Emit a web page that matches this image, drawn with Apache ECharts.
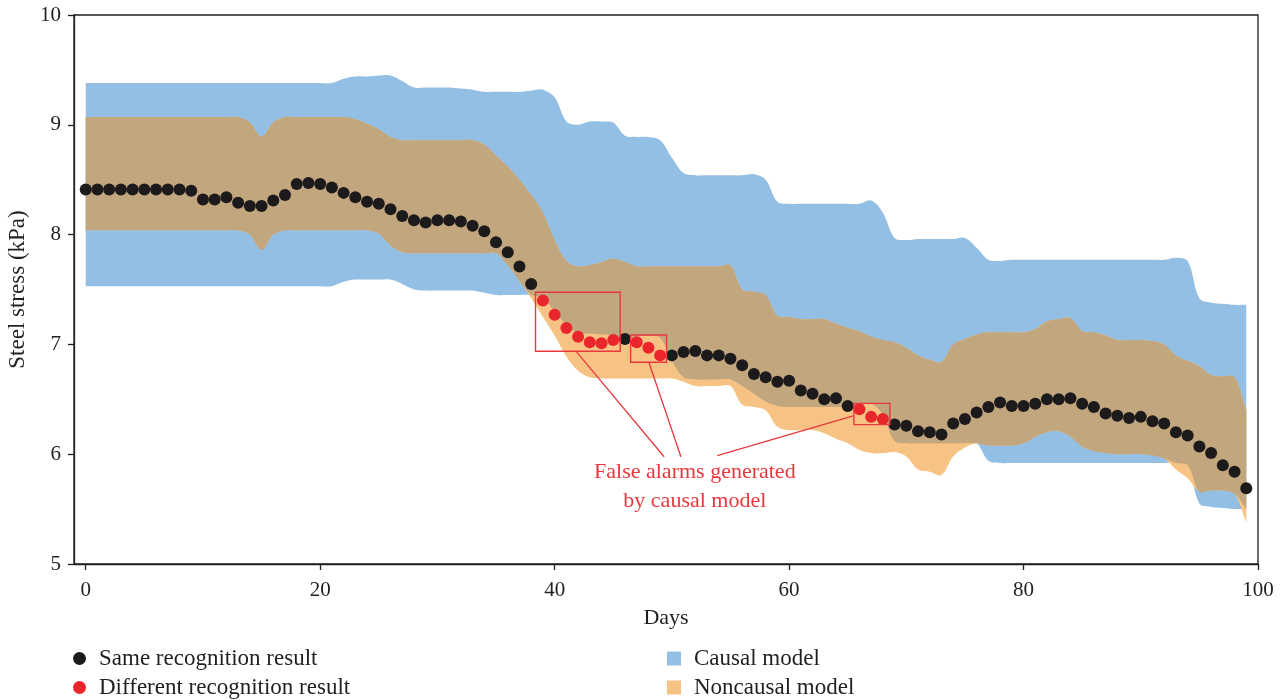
<!DOCTYPE html>
<html>
<head>
<meta charset="utf-8">
<title>Steel stress recognition</title>
<script src="https://cdn.jsdelivr.net/npm/echarts@6/dist/echarts.min.js"></script>
<style>
  html, body { margin: 0; padding: 0; background: #ffffff; }
  #chart { width: 1286px; height: 700px; }
</style>
</head>
<body>
<div id="chart"></div>
<script>
// Monitoring days 0..99
const days = Array.from({ length: 100 }, (_, i) => i);

// Measured steel stress (kPa), one value per day
const stress = [
  8.41, 8.41, 8.41, 8.41, 8.41, 8.41, 8.41, 8.41, 8.41, 8.40,
  8.32, 8.32, 8.34, 8.29, 8.26, 8.26, 8.31, 8.36, 8.46, 8.47,
  8.46, 8.43, 8.38, 8.34, 8.30, 8.28, 8.23, 8.17, 8.13, 8.11,
  8.13, 8.13, 8.12, 8.08, 8.03, 7.93, 7.84, 7.71, 7.55, 7.40,
  7.27, 7.15, 7.07, 7.02, 7.01, 7.04, 7.05, 7.02, 6.97, 6.90,
  6.90, 6.93, 6.94, 6.90, 6.90, 6.87, 6.81, 6.73, 6.70, 6.66,
  6.67, 6.58, 6.55, 6.50, 6.51, 6.44, 6.41, 6.34, 6.32, 6.27,
  6.26, 6.21, 6.20, 6.18, 6.28, 6.32, 6.38, 6.43, 6.47, 6.44,
  6.44, 6.46, 6.50, 6.50, 6.51, 6.46, 6.43, 6.37, 6.35, 6.33,
  6.34, 6.30, 6.28, 6.20, 6.17, 6.07, 6.01, 5.90, 5.84, 5.69
];

// Days on which the two models disagree
const differentDays = [39, 40, 41, 42, 43, 44, 45, 47, 48, 49, 66, 67, 68];

// Causal model normal range
const causalUpper = [
  9.38, 9.38, 9.38, 9.38, 9.38, 9.38, 9.38, 9.38, 9.38, 9.38,
  9.38, 9.38, 9.38, 9.38, 9.38, 9.38, 9.38, 9.38, 9.38, 9.38,
  9.38, 9.38, 9.42, 9.44, 9.44, 9.45, 9.45, 9.40, 9.34, 9.34,
  9.34, 9.34, 9.33, 9.32, 9.30, 9.30, 9.30, 9.30, 9.31, 9.32,
  9.25, 9.03, 9.00, 9.03, 9.03, 9.02, 8.90, 8.89, 8.89, 8.86,
  8.70, 8.56, 8.54, 8.54, 8.54, 8.54, 8.54, 8.55, 8.50, 8.30,
  8.28, 8.28, 8.28, 8.28, 8.28, 8.28, 8.28, 8.31, 8.20, 7.97,
  7.95, 7.96, 7.96, 7.96, 7.96, 7.97, 7.88, 7.77, 7.76, 7.77,
  7.77, 7.77, 7.77, 7.77, 7.77, 7.77, 7.77, 7.77, 7.77, 7.77,
  7.77, 7.77, 7.77, 7.79, 7.76, 7.42, 7.38, 7.37, 7.36, 7.36
];
const causalLower = [
  7.53, 7.53, 7.53, 7.53, 7.53, 7.53, 7.53, 7.53, 7.53, 7.53,
  7.53, 7.53, 7.53, 7.53, 7.53, 7.53, 7.53, 7.53, 7.53, 7.53,
  7.53, 7.53, 7.57, 7.59, 7.59, 7.59, 7.59, 7.55, 7.50, 7.49,
  7.49, 7.49, 7.49, 7.49, 7.47, 7.45, 7.45, 7.45, 7.45, 7.43,
  7.30, 7.18, 7.10, 7.10, 7.09, 7.08, 7.04, 7.07, 7.08, 7.06,
  6.85, 6.70, 6.68, 6.68, 6.68, 6.68, 6.62, 6.55, 6.48, 6.44,
  6.43, 6.43, 6.43, 6.43, 6.43, 6.43, 6.44, 6.46, 6.36, 6.12,
  6.10, 6.10, 6.10, 6.10, 6.10, 6.10, 6.10, 5.94, 5.92, 5.92,
  5.92, 5.92, 5.92, 5.92, 5.92, 5.92, 5.92, 5.92, 5.92, 5.92,
  5.92, 5.92, 5.92, 5.92, 5.90, 5.55, 5.52, 5.51, 5.50, 5.50
];

// Noncausal model normal range
const noncausalUpper = [
  9.07, 9.07, 9.07, 9.07, 9.07, 9.07, 9.07, 9.07, 9.07, 9.07,
  9.07, 9.07, 9.07, 9.07, 9.02, 8.89, 9.02, 9.07, 9.07, 9.07,
  9.07, 9.07, 9.07, 9.05, 9.01, 8.96, 8.89, 8.86, 8.86, 8.86,
  8.86, 8.86, 8.86, 8.86, 8.82, 8.72, 8.62, 8.50, 8.36, 8.20,
  7.95, 7.76, 7.71, 7.72, 7.75, 7.78, 7.75, 7.71, 7.71, 7.71,
  7.71, 7.71, 7.71, 7.71, 7.71, 7.72, 7.50, 7.48, 7.45, 7.26,
  7.25, 7.23, 7.23, 7.23, 7.19, 7.15, 7.12, 7.07, 7.04, 7.02,
  6.97, 6.90, 6.86, 6.84, 7.00, 7.05, 7.09, 7.11, 7.11, 7.11,
  7.11, 7.14, 7.21, 7.23, 7.24, 7.12, 7.11, 7.08, 7.04, 7.04,
  7.04, 7.03, 7.00, 6.90, 6.85, 6.80, 6.72, 6.71, 6.70, 6.40
];
const noncausalLower = [
  8.04, 8.04, 8.04, 8.04, 8.04, 8.04, 8.04, 8.04, 8.04, 8.04,
  8.04, 8.04, 8.04, 8.04, 8.00, 7.86, 8.00, 8.04, 8.04, 8.04,
  8.04, 8.04, 8.04, 8.04, 8.04, 8.01, 7.90, 7.84, 7.83, 7.83,
  7.83, 7.83, 7.83, 7.83, 7.83, 7.83, 7.72, 7.58, 7.42, 7.25,
  7.08, 6.89, 6.76, 6.70, 6.69, 6.69, 6.69, 6.69, 6.69, 6.69,
  6.69, 6.66, 6.62, 6.62, 6.62, 6.62, 6.45, 6.43, 6.40, 6.25,
  6.22, 6.22, 6.22, 6.19, 6.14, 6.10, 6.04, 6.01, 6.01, 6.02,
  5.98, 5.86, 5.84, 5.81, 5.98, 6.06, 6.10, 6.08, 6.08, 6.08,
  6.10, 6.16, 6.20, 6.21, 6.16, 6.07, 6.03, 6.01, 6.00, 6.00,
  6.00, 5.99, 5.96, 5.86, 5.78, 5.66, 5.67, 5.67, 5.64, 5.38
];

// Region where both ranges agree
const sharedUpper = days.map((d, i) => Math.min(causalUpper[i], noncausalUpper[i]));
const sharedLower = days.map((d, i) => Math.max(causalLower[i], noncausalLower[i]));

// Highlight boxes around false alarms: [xFrom, xTo, yFrom, yTo]
const alarmBoxes = [
  [38.37, 45.59, 6.937, 7.475],
  [46.48, 49.55, 6.837, 7.086],
  [65.53, 68.60, 6.269, 6.463]
];
// Leader lines from the note to the boxes: [x1, y1, x2, y2]
const leaderLines = [
  [41.84, 6.937, 49.34, 5.977],
  [48.04, 6.837, 50.77, 5.977],
  [53.87, 5.986, 65.47, 6.348]
];
const notePosition = [51.96, 5.706];
const noteText = 'False alarms generated\nby causal model';

const xTicks = [0, 20, 40, 60, 80, 100];

const FONT = "'Liberation Serif', 'DejaVu Serif', serif";
const INK = '#231f20';
const RED = '#e8383d';
const BLUE = '#93bfe4';
const ORANGE = '#f7c384';
const BROWN = '#c2a67e';

const isDifferent = new Set(differentDays);
const samePoints = days.filter(d => !isDifferent.has(d)).map(d => [d, stress[d]]);
const diffPoints = days.filter(d => isDifferent.has(d)).map(d => [d, stress[d]]);

// Filled band drawn as one smoothed polygon through the axis scales
function band(name, lower, upper, color, z) {
  return {
    name: name,
    type: 'custom',
    coordinateSystem: 'cartesian2d',
    z: z,
    silent: true,
    itemStyle: { color: color },
    data: days.map((d, i) => [d, lower[i], upper[i]]),
    encode: { x: 0, y: [1, 2] },
    renderItem: function (params, api) {
      if (params.dataIndex !== 0) return null;
      const top = days.map((d, i) => api.coord([d, upper[i]]));
      const bottom = days.map((d, i) => api.coord([d, lower[i]])).reverse();
      const n = top.length;
      // doubled corner points keep the end edges straight
      const pts = [top[0]].concat(top, [top[n - 1]], [bottom[0]], bottom, [bottom[n - 1]]);
      return {
        type: 'polygon',
        shape: { points: pts, smooth: 0.35 },
        style: { fill: color, stroke: null }
      };
    }
  };
}

const legendText = { fontFamily: FONT, fontSize: 23, lineHeight: 22, color: INK, padding: [0, 0, 0, 8] };

const chart = echarts.init(document.getElementById('chart'), null, { renderer: 'canvas' });

chart.setOption({
  animation: false,
  backgroundColor: '#ffffff',
  textStyle: { fontFamily: FONT, color: INK },
  grid: {
    left: 74, right: 28, top: 15, bottom: 136,
    containLabel: false,
    outerBoundsMode: 'none',
    show: true, borderColor: INK, borderWidth: 1.3, backgroundColor: 'transparent'
  },
  xAxis: {
    type: 'value',
    min: -1, max: 100,
    name: 'Days',
    nameLocation: 'middle',
    nameGap: 43,
    nameTextStyle: { fontFamily: FONT, fontSize: 22, color: INK },
    axisLine: { show: true, onZero: false, lineStyle: { color: INK, width: 1.3 } },
    axisTick: { show: true, customValues: xTicks, length: 6, lineStyle: { color: INK, width: 1.3 } },
    axisLabel: { customValues: xTicks, fontFamily: FONT, fontSize: 21, color: INK, margin: 16 },
    splitLine: { show: false }
  },
  yAxis: {
    type: 'value',
    min: 5, max: 10, interval: 1,
    name: 'Steel stress (kPa)',
    nameLocation: 'middle',
    nameGap: 44,
    nameTextStyle: { fontFamily: FONT, fontSize: 23, color: INK },
    axisLine: { show: true, onZero: false, lineStyle: { color: INK, width: 1.3 } },
    axisTick: { show: true, length: 6, lineStyle: { color: INK, width: 1.3 } },
    axisLabel: { fontFamily: FONT, fontSize: 21, color: INK, margin: 13 },
    splitLine: { show: false }
  },
  legend: [
    {
      data: ['Same recognition result', 'Different recognition result'],
      orient: 'vertical',
      left: 73, top: 647,
      padding: 0,
      icon: 'circle',
      itemWidth: 13, itemHeight: 13, itemGap: 6,
      textStyle: legendText
    },
    {
      data: ['Causal model', 'Noncausal model'],
      orient: 'vertical',
      left: 667, top: 647,
      padding: 0,
      icon: 'rect',
      itemWidth: 14, itemHeight: 14, itemGap: 6,
      textStyle: legendText
    }
  ],
  series: [
    band('Causal model', causalLower, causalUpper, BLUE, 1),
    band('Noncausal model', noncausalLower, noncausalUpper, ORANGE, 2),
    band('Shared range', sharedLower, sharedUpper, BROWN, 3),
    {
      name: 'Same recognition result',
      type: 'scatter',
      z: 5,
      symbol: 'circle',
      symbolSize: 12,
      itemStyle: { color: '#1c1a1b', opacity: 1 },
      data: samePoints
    },
    {
      name: 'Different recognition result',
      type: 'scatter',
      z: 6,
      symbol: 'circle',
      symbolSize: 12,
      itemStyle: { color: '#e8262b', opacity: 1 },
      data: diffPoints,
      markArea: {
        silent: true,
        z: 10,
        itemStyle: { color: 'rgba(0,0,0,0)', borderColor: RED, borderWidth: 1.4 },
        label: { show: false },
        data: alarmBoxes.map(b => [{ coord: [b[0], b[3]] }, { coord: [b[1], b[2]] }])
      },
      markLine: {
        silent: true,
        z: 10,
        symbol: ['none', 'none'],
        label: { show: false },
        lineStyle: { color: RED, width: 1.3, type: 'solid' },
        data: leaderLines.map(l => [{ coord: [l[0], l[1]] }, { coord: [l[2], l[3]] }])
      },
      markPoint: {
        silent: true,
        z: 10,
        symbol: 'circle',
        symbolSize: 1,
        itemStyle: { color: 'rgba(0,0,0,0)' },
        label: {
          show: true,
          position: 'inside',
          formatter: noteText,
          fontFamily: FONT,
          fontSize: 22,
          lineHeight: 29,
          align: 'center',
          color: RED
        },
        data: [{ coord: notePosition }]
      }
    }
  ]
});
</script>
</body>
</html>
